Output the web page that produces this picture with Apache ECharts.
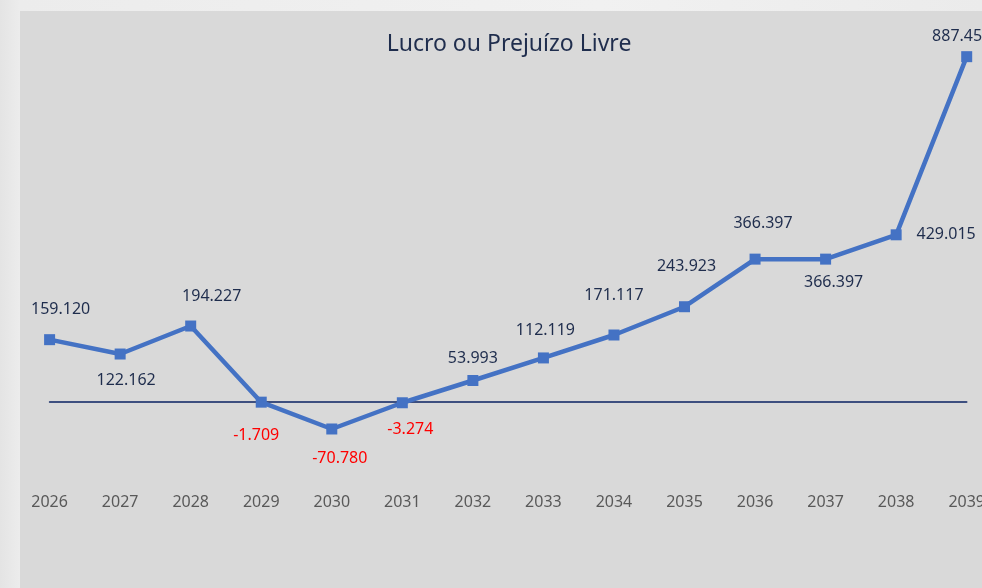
<!DOCTYPE html>
<html>
<head>
<meta charset="utf-8">
<script src="https://cdn.jsdelivr.net/npm/echarts@6/dist/echarts.min.js"></script>
<style>
  html, body { margin: 0; padding: 0; }
  body {
    width: 982px; height: 588px; overflow: hidden; position: relative;
    background: linear-gradient(90deg, #e4e4e4 0px, #ececec 20px, #f1f1f1 600px, #ebebeb 982px);
  }
  #panel { position: absolute; left: 20px; top: 11px; right: 0; bottom: 0; background: #d9d9d9; }
  #main { position: absolute; left: 0; top: 0; width: 982px; height: 588px; }
</style>
</head>
<body>
<div id="panel"></div>
<div id="main"></div>
<script>
const years = ['2026', '2027', '2028', '2029', '2030', '2031', '2032', '2033', '2034', '2035', '2036', '2037', '2038', '2039']
const lucro = [159120, 122162, 194227, -1709, -70780, -3274, 53993, 112119, 171117, 243923, 366397, 366397, 429015, 887450]

// label centre relative to the point, like the hand-placed labels in the original
const labelOffsets = [
  [11, -30], [6, 26], [21, -30], [-5, 33], [8, 29], [8, 27], [0, -22],
  [2, -27], [0, -40], [2, -40], [8, -36], [8, 23], [50, 0], [-5, -20]
]

function fmt(v) {
  const s = Math.abs(v).toString().replace(/\B(?=(\d{3})+(?!\d))/g, '.')
  return (v < 0 ? '-' : '') + s
}

const myChart = echarts.init(document.getElementById('main'))

const points = lucro.map(function (v, i) {
  return {
    value: v,
    label: {
      offset: labelOffsets[i],
      color: v < 0 ? '#ff0000' : '#1f2d4d'
    }
  }
})

const option = {
  backgroundColor: 'transparent',
  animation: false,
  title: {
    text: 'Lucro ou Prejuízo Livre',
    left: 504,
    top: 28,
    textAlign: 'center',
    textStyle: {
      fontFamily: 'Noto Sans',
      fontSize: 23,
      fontWeight: 'normal',
      color: '#1f2d4d'
    }
  },
  grid: {
    left: 49.6,
    right: 15.3,
    top: 51.8,
    bottom: 108.8,
    containLabel: false,
    outerBoundsMode: 'none'
  },
  xAxis: [
    {
      type: 'category',
      data: years,
      boundaryGap: false,
      axisLine: { show: false, onZero: false },
      axisTick: { show: false },
      axisLabel: {
        margin: 15,
        color: '#595959',
        fontFamily: 'Noto Sans',
        fontSize: 16
      }
    },
    {
      type: 'category',
      data: years,
      boundaryGap: false,
      position: 'bottom',
      axisLine: { show: true, onZero: true, lineStyle: { color: '#0a2261', width: 1.6 } },
      axisTick: { show: false },
      axisLabel: { show: false }
    }
  ],
  yAxis: {
    type: 'value',
    min: -200000,
    max: 900000,
    show: false,
    splitLine: { show: false }
  },
  series: [
    {
      name: 'Lucro ou Prejuízo Livre',
      type: 'line',
      xAxisIndex: 0,
      data: points,
      symbol: 'rect',
      symbolSize: 11,
      showAllSymbol: true,
      lineStyle: { color: '#4472c4', width: 4.5 },
      itemStyle: { color: '#4472c4' },
      label: {
        show: true,
        position: 'inside',
        fontFamily: 'Noto Sans',
        fontSize: 16,
        formatter: function (p) { return fmt(p.value) }
      },
      z: 3
    }
  ]
}

option && myChart.setOption(option)
</script>
</body>
</html>
